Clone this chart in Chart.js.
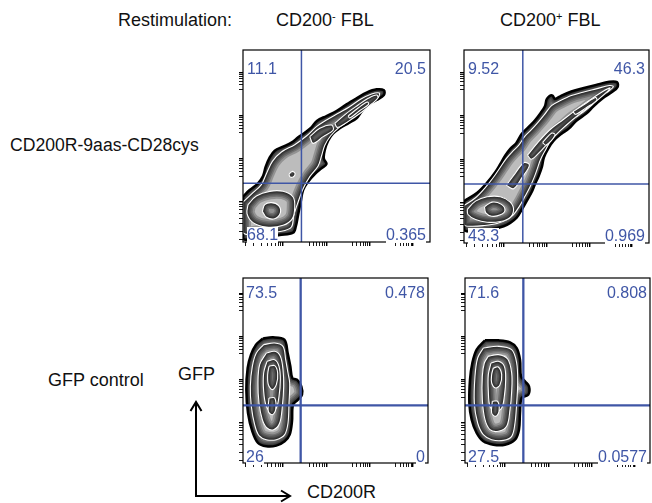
<!DOCTYPE html>
<html>
<head>
<meta charset="utf-8">
<script src="https://cdn.jsdelivr.net/npm/chart.js@4.4.1/dist/chart.umd.min.js"></script>
<style>
  body { margin: 0; width: 652px; height: 503px; position: relative; overflow: hidden; background: #fff;
         font-family: "Liberation Sans", Arial, Helvetica, sans-serif; }
  .lbl { position: absolute; font-size: 18px; line-height: 18px; color: #111; white-space: nowrap; }
  .lbl sup { font-size: 11px; vertical-align: 6px; line-height: 0; }
  .panel { position: absolute; }
  .q { position: absolute; font-size: 16px; line-height: 16px; color: #3f56a6; background: #fff; white-space: nowrap; z-index: 2; }
  svg { position: absolute; left: 0; top: 0; }
</style>
</head>
<body>

<div class="lbl" style="left:118px; top:11px;">Restimulation:</div>
<div class="lbl" style="left:276px; top:11px;">CD200<sup>-</sup> FBL</div>
<div class="lbl" style="left:500px; top:11px;">CD200<sup>+</sup> FBL</div>
<div class="lbl" style="left:10px; top:136px; font-size:17.6px;">CD200R-9aas-CD28cys</div>
<div class="lbl" style="left:48px; top:371px;">GFP control</div>
<div class="lbl" style="left:178px; top:365px;">GFP</div>
<div class="lbl" style="left:307px; top:483px;">CD200R</div>

<svg width="652" height="503">
  <g stroke="#000" stroke-width="2" fill="none">
    <polyline points="196,403 196,496 289,496"/>
    <polyline points="190.5,411 196,402 201.5,411"/>
    <polyline points="281,490.5 290,496 281,501.5"/>
  </g>
</svg>

<canvas id="tl" class="panel"></canvas>
<canvas id="tr" class="panel"></canvas>
<canvas id="bl" class="panel"></canvas>
<canvas id="br" class="panel"></canvas>

<script>
// ---- tick marks on both axes (channel units) ----
const majorTicks = [120, 250, 380, 508];
const minorTicks = [8, 32, 55, 72, 86, 98, 106, 113, 198, 211, 221, 230, 237, 244,
                    328, 341, 351, 360, 367, 374, 458, 471, 481, 490, 497, 504];

// ---- quadrant frequencies: upper-left, upper-right, lower-left, lower-right ----
const pctTL = ['11.1', '20.5', '68.1', '0.365'];
const pctTR = ['9.52', '46.3', '43.3', '0.969'];
const pctBL = ['73.5', '0.478', '26', '0'];
const pctBR = ['71.6', '0.808', '27.5', '0.0577'];

// ---- quadrant gates [CD200R, GFP] ----
const gateTL = [175, 176];
const gateTR = [178, 176];
const gateBL = [173, 173];
const gateBR = [175, 173];

// ---- zebra contours, outermost level first; each level is a list of closed shapes ----
const tlLevel1 = [[[0,136],[20,156],[45,176],[60,198],[68,226],[80,254],[95,274],[120,286],[145,298],[165,314],
  [185,328],[205,344],[222,364],[250,378],[280,393],[310,413],[340,431],[370,448],[400,458],[422,455],[422,441],
  [400,426],[372,411],[355,391],[340,371],[315,356],[290,341],[270,326],[255,304],[245,276],[242,251],[250,234],
  [235,221],[215,204],[195,181],[180,156],[173,121],[165,81],[158,46],[150,28],[110,21],[50,11],[0,11]]];
const tlLevel2 = [[[0,120],[30,148],[55,172],[70,205],[88,242],[115,270],[155,292],[190,318],[220,346],[250,366],
  [285,386],[318,405],[352,428],[385,444],[408,447],[405,434],[372,410],[345,385],[318,364],[288,344],[262,318],
  [245,290],[235,258],[225,228],[200,196],[180,160],[165,120],[152,80],[145,45],[115,32],[60,28],[0,28]]];
const tlLevel3 = [
  [[15,112],[40,138],[80,152],[120,152],[150,135],[155,105],[148,70],[120,50],[70,45],[30,58],[12,85]],
  [[275,356],[310,386],[345,411],[375,431],[400,441],[404,432],[385,414],[360,393],[330,372],[300,352],[282,344]],
  [[200,316],[230,341],[265,351],[270,336],[240,316],[210,296]],
  [[138,204],[148,212],[156,205],[150,195],[140,196]]];
const tlLevel4 = [
  [[58,92],[70,74],[95,70],[112,88],[106,110],[85,118],[65,112]],
  [[315,378],[345,402],[372,420],[376,413],[348,393],[320,372]]];

const trLevel1 = [[[0,125],[40,150],[70,180],[95,212],[110,236],[125,261],[140,281],[158,298],[175,326],[195,346],
  [215,366],[232,388],[245,408],[250,428],[258,438],[268,440],[275,430],[295,440],[325,452],[360,462],[400,472],
  [440,481],[463,480],[465,466],[450,452],[420,432],[392,408],[370,386],[340,365],[318,342],[295,326],[272,306],
  [255,282],[242,256],[236,228],[226,200],[215,176],[205,152],[190,126],[175,100],[160,76],[140,60],[120,50],
  [80,40],[30,35],[0,40]]];
const trLevel2 = [[[0,112],[35,135],[65,166],[92,200],[110,226],[128,252],[146,272],[166,292],[184,318],[204,338],
  [224,360],[244,384],[265,410],[292,425],[325,440],[360,450],[400,460],[440,470],[452,467],[440,455],[410,435],
  [385,410],[360,390],[330,370],[305,348],[282,328],[262,305],[248,280],[232,250],[222,222],[212,195],[200,168],
  [185,140],[168,110],[150,85],[130,70],[100,58],[60,52],[20,50],[0,55]]];
const trLevel3 = [
  [[10,100],[35,125],[70,138],[110,138],[140,122],[150,98],[138,75],[110,64],[70,62],[35,70],[12,85]],
  [[128,172],[155,208],[182,240],[198,232],[176,196],[150,162]],
  [[192,262],[222,298],[260,338],[300,368],[340,398],[380,426],[420,452],[442,463],[432,450],[398,422],[362,394],
   [326,366],[292,336],[258,302],[226,268],[204,250]]];
const trLevel4 = [
  [[62,108],[85,122],[112,116],[124,98],[110,84],[84,80],[66,90]],
  [[330,392],[365,414],[398,434],[402,426],[370,404],[338,384]],
  [[238,300],[266,328],[276,322],[248,292]]];

const blLevel1 = [[[59,373],[90,377],[124,370],[134,330],[142,290],[148,255],[162,250],[175,230],[177,205],[165,190],
  [150,175],[147,125],[140,85],[125,65],[100,52],[70,50],[45,60],[28,95],[15,150],[10,220],[14,285],[24,325],[39,355]]];
const blLevel2 = [[[62,355],[95,360],[120,350],[128,310],[135,270],[140,240],[138,180],[135,120],[125,85],[100,70],
  [70,70],[48,82],[35,115],[25,170],[22,230],[28,290],[40,330]]];
const blLevel3 = [[[70,330],[95,335],[112,320],[120,280],[122,230],[118,170],[110,120],[92,100],[72,105],[58,130],
  [48,180],[45,240],[50,295]]];
const blLevel4 = [[[72,305],[95,310],[108,290],[112,250],[108,200],[100,165],[85,155],[70,170],[62,215],[62,270]]];
const blLevel5 = [
  [[78,290],[95,292],[104,270],[100,235],[88,220],[76,235],[74,265]],
  [[78,195],[95,195],[98,160],[88,145],[76,155]]];

const brLevel1 = [[[60,368],[100,368],[135,362],[155,345],[165,310],[168,260],[180,245],[192,230],[190,205],[170,195],
  [165,150],[162,100],[150,70],[120,55],[85,55],[55,65],[35,90],[20,130],[13,180],[15,250],[22,300],[35,340]]];
const brLevel2 = [[[55,345],[100,350],[140,340],[155,300],[158,240],[155,180],[150,120],[140,80],[115,68],[80,70],
  [55,85],[38,120],[28,180],[30,260],[38,315]]];
const brLevel3 = [[[70,320],[100,325],[128,312],[140,270],[140,215],[135,160],[125,110],[100,95],[75,100],[60,130],
  [52,190],[52,260],[58,300]]];
const brLevel4 = [[[78,300],[100,305],[118,290],[122,250],[118,200],[110,165],[92,155],[75,170],[70,215],[70,265]]];
const brLevel5 = [
  [[85,285],[100,288],[110,265],[105,235],[92,225],[80,240],[80,265]],
  [[82,185],[98,185],[102,155],[92,140],[80,150]]];

const panels = [
  { id: 'tl', box: [243, 50, 187, 192], range: [560, 576], gate: gateTL, pct: pctTL, gateWidth: 1.5,
    inset: [4, 11, 15], levels: [tlLevel1, tlLevel2, tlLevel3, tlLevel4] },
  { id: 'tr', box: [464, 50, 185, 193], range: [560, 576], gate: gateTR, pct: pctTR, gateWidth: 1.5,
    inset: [4, 11, 15], levels: [trLevel1, trLevel2, trLevel3, trLevel4] },
  { id: 'bl', box: [243, 278, 185, 185], range: [555, 555], gate: gateBL, pct: pctBL, gateWidth: 2.3,
    inset: [3, 7, 14], levels: [blLevel1, blLevel2, blLevel3, blLevel4, blLevel5] },
  { id: 'br', box: [465, 278, 185, 185], range: [555, 555], gate: gateBR, pct: pctBR, gateWidth: 2.3,
    inset: [3, 7, 14], levels: [brLevel1, brLevel2, brLevel3, brLevel4, brLevel5] }
];

const GATE_BLUE = '#3f56a6';
const M = { left: 10, right: 3, top: 3, bottom: 10 };   // canvas margin around the plot box
const TICK = 4;

function contourSets(levels) {
  const sets = [];
  levels.forEach((shapes, depth) => {
    shapes.forEach(shape => {
      const pts = shape.map(p => ({ x: p[0], y: p[1] }));
      pts.push(pts[0]);
      sets.push({
        type: 'line',
        data: pts,
        fill: 'shape',
        tension: 0.35,
        pointRadius: 0,
        borderColor: depth === 0 ? '#000' : '#fff',
        borderWidth: depth === 0 ? 2.5 : 1.1,
        backgroundColor: '#bcbcbc',
        clip: 0,
        order: 20 - depth
      });
    });
  });
  return sets;
}

// zebra shading: darken each band from its outer contour inward (after the fill, before the contour line)
const zebraPlugin = {
  id: 'zebra',
  beforeDatasetDraw(chart, args) {
    const ds = chart.data.datasets[args.index];
    if (ds.fill !== 'shape') return;
    const line = args.meta.dataset;
    const { ctx, chartArea: a } = chart;
    ctx.save();
    ctx.beginPath();
    ctx.rect(a.left, a.top, a.right - a.left, a.bottom - a.top);
    ctx.clip();
    ctx.beginPath();
    line.path(ctx);
    ctx.closePath();
    ctx.clip();
    ctx.strokeStyle = 'rgba(0,0,0,0.22)';
    [16, 12, 9, 6, 4, 2].forEach(w => { ctx.lineWidth = w; ctx.stroke(); });
    ctx.restore();
  }
};

const boxPlugin = {
  id: 'box',
  afterDatasetsDraw(chart) {
    const { ctx, chartArea: a } = chart;
    ctx.save();
    ctx.strokeStyle = '#000';
    ctx.lineWidth = 1.2;
    ctx.strokeRect(a.left, a.top, a.right - a.left, a.bottom - a.top);
    ctx.restore();
  }
};

function axis(max) {
  return {
    type: 'linear',
    min: 0,
    max: max,
    border: { display: false },
    grid: {
      drawOnChartArea: false,
      drawTicks: true,
      tickLength: TICK,
      color: '#000',
      lineWidth: c => (c.tick && majorTicks.includes(c.tick.value)) ? 1.4 : 0.9
    },
    ticks: { display: false },
    afterBuildTicks: s => { s.ticks = majorTicks.concat(minorTicks).map(v => ({ value: v })); }
  };
}

panels.forEach(p => {
  const [left, top, w, h] = p.box;
  const cv = document.getElementById(p.id);
  cv.style.left = (left - M.left) + 'px';
  cv.style.top = (top - M.top) + 'px';
  cv.style.width = (w + M.left + M.right) + 'px';
  cv.style.height = (h + M.top + M.bottom) + 'px';

  const gateSets = [
    { type: 'line', data: [{ x: p.gate[0], y: 0 }, { x: p.gate[0], y: p.range[1] }] },
    { type: 'line', data: [{ x: 0, y: p.gate[1] }, { x: p.range[0], y: p.gate[1] }] }
  ].map(d => Object.assign(d, { borderColor: GATE_BLUE, borderWidth: p.gateWidth, pointRadius: 0, fill: false, clip: 0, order: 0 }));

  new Chart(cv, {
    type: 'scatter',
    data: { datasets: contourSets(p.levels).concat(gateSets) },
    options: {
      responsive: false,
      maintainAspectRatio: false,
      animation: false,
      events: [],
      layout: { autoPadding: false, padding: { left: M.left - TICK, right: M.right, top: M.top, bottom: M.bottom - TICK } },
      plugins: { legend: { display: false }, tooltip: { enabled: false } },
      scales: { x: axis(p.range[0]), y: axis(p.range[1]) }
    },
    plugins: [zebraPlugin, boxPlugin]
  });

  // quadrant frequency labels
  const [ix, iTop, iBottom] = p.inset;
  const spots = [
    { left: left + ix, top: top + iTop },
    { right: 652 - (left + w - ix), top: top + iTop },
    { left: left + ix, top: top + h - iBottom },
    { right: 652 - (left + w - ix), top: top + h - iBottom }
  ];
  p.pct.forEach((txt, i) => {
    const d = document.createElement('div');
    d.className = 'q';
    d.textContent = txt;
    const s = spots[i];
    if (s.left !== undefined) d.style.left = s.left + 'px';
    if (s.right !== undefined) d.style.right = s.right + 'px';
    d.style.top = s.top + 'px';
    document.body.appendChild(d);
  });
});
</script>
</body>
</html>
